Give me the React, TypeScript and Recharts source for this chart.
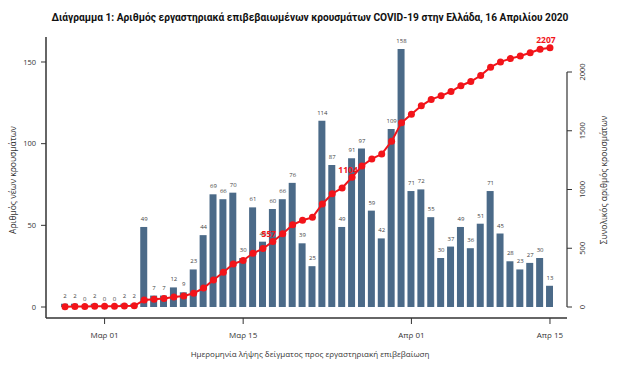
import React from 'react';
import { ComposedChart, Bar, Line, XAxis, YAxis, LabelList, ReferenceLine } from 'recharts';

const dates = [
  '26/02', '27/02', '28/02', '29/02',
  '01/03', '02/03', '03/03', '04/03', '05/03', '06/03', '07/03', '08/03', '09/03', '10/03',
  '11/03', '12/03', '13/03', '14/03', '15/03', '16/03', '17/03', '18/03', '19/03', '20/03',
  '21/03', '22/03', '23/03', '24/03', '25/03', '26/03', '27/03', '28/03', '29/03', '30/03', '31/03',
  '01/04', '02/04', '03/04', '04/04', '05/04', '06/04', '07/04', '08/04', '09/04', '10/04',
  '11/04', '12/04', '13/04', '14/04', '15/04',
];

const dailyCases = [
  2, 2, 0, 2, 0, 0, 2, 2, 49, 7, 7, 12, 9, 23, 44, 69, 66, 70, 30, 61,
  40, 60, 66, 76, 39, 25, 114, 87, 49, 91, 97, 59, 42, 109, 158, 71, 72, 55, 30, 37,
  49, 36, 51, 71, 45, 28, 23, 27, 30, 13,
];

const cumulativeCases = [
  2, 4, 4, 6, 6, 6, 8, 10, 59, 66, 73, 85, 94, 117, 161, 230, 296, 366, 396, 457,
  497, 557, 623, 699, 738, 763, 877, 964, 1013, 1104, 1201, 1260, 1302, 1411, 1569, 1640, 1712, 1767, 1797, 1834,
  1883, 1919, 1970, 2041, 2086, 2114, 2137, 2164, 2194, 2207,
];

const xTickIndex = [4, 18, 35, 49];
const xTickLabels = ['Μαρ 01', 'Μαρ 15', 'Απρ 01', 'Απρ 15'];
const leftTicks = [0, 50, 100, 150];
const rightTicks = [0, 500, 1000, 1500, 2000];
const highlightedIndex = [21, 29, 49];

const TITLE = 'Διάγραμμα 1: Αριθμός εργαστηριακά επιβεβαιωμένων κρουσμάτων COVID-19 στην Ελλάδα, 16 Απριλίου 2020';
const X_TITLE = 'Ημερομηνία λήψης δείγματος προς εργαστηριακή επιβεβαίωση';
const LEFT_TITLE = 'Αριθμός νέων κρουσμάτων';
const RIGHT_TITLE = 'Συνολικός αριθμός κρουσμάτων';

const data = dates.map((d, i) => ({ i, date: d, daily: dailyCases[i], cum: cumulativeCases[i] }));

const FONT = '"Open Sans", "DejaVu Sans", sans-serif';
const TITLE_FONT = 'Roboto, "Open Sans", sans-serif';
const X_MIN = -1.92;
const X_MAX = 50.72;
const BAR_COLOR = '#4b6a88';
const RED = '#f2141a';
const AXIS_COLOR = '#333333';

const RightTick = (props: any) => {
  const { x, y, payload } = props;
  return (
    <text
      x={x}
      y={y}
      transform={`rotate(-90 ${x} ${y})`}
      textAnchor="middle"
      dominantBaseline="central"
      fontSize={7.5}
      fill={AXIS_COLOR}
      fontFamily={FONT}
    >
      {payload.value}
    </text>
  );
};

const highlightedValues = highlightedIndex.map((i) => cumulativeCases[i]);

const HighlightLabel = (props: any) => {
  const { x, y, value, index } = props;
  const show = index !== undefined ? highlightedIndex.includes(index) : highlightedValues.includes(value);
  if (!show) return null;
  return (
    <text
      x={x - 4}
      y={y - 8}
      textAnchor="middle"
      dominantBaseline="central"
      fontSize={8.5}
      fontWeight={700}
      fill={RED}
      fontFamily={FONT}
    >
      {value}
    </text>
  );
};

const BarValueLabel = (props: any) => {
  const { x, y, value } = props;
  return (
    <text
      x={x}
      y={y - 6}
      textAnchor="middle"
      fontSize={6}
      fill="#444"
      fontFamily={FONT}
    >
      {value}
    </text>
  );
};

export default function App() {
  return (
    <div style={{ position: 'absolute', left: 0, top: 0, width: 617, height: 367, background: '#fff' }}>
      <ComposedChart width={617} height={367} data={data} margin={{ top: 37, right: 10, bottom: 9, left: 6 }}>
        <XAxis
          dataKey="i"
          type="number"
          domain={[X_MIN, X_MAX]}
          allowDataOverflow
          ticks={xTickIndex}
          tickFormatter={(v: number) => xTickLabels[xTickIndex.indexOf(v)] ?? ''}
          height={40}
          tickSize={6}
          tickMargin={8}
          axisLine={{ stroke: AXIS_COLOR, strokeWidth: 1.5 }}
          tickLine={{ stroke: AXIS_COLOR }}
          tick={{ fontSize: 8, fill: AXIS_COLOR, fontFamily: FONT }}
        />
        <YAxis
          yAxisId="left"
          domain={[-6.73, 165.3]}
          allowDataOverflow
          ticks={leftTicks}
          width={40}
          tickSize={5}
          tickMargin={5}
          axisLine={{ stroke: AXIS_COLOR, strokeWidth: 1.5 }}
          tickLine={{ stroke: AXIS_COLOR }}
          tick={{ fontSize: 7.5, fill: AXIS_COLOR, fontFamily: FONT }}
        />
        <YAxis
          yAxisId="right"
          orientation="right"
          domain={[-93.6, 2298]}
          allowDataOverflow
          ticks={rightTicks}
          width={40}
          tickSize={5}
          tickMargin={10}
          axisLine={false}
          tickLine={{ stroke: AXIS_COLOR }}
          tick={<RightTick />}
        />
        <ReferenceLine
          yAxisId="right"
          segment={[{ x: X_MAX, y: 0 }, { x: X_MAX, y: 2000 }]}
          stroke={AXIS_COLOR}
          strokeWidth={1.2}
          ifOverflow="visible"
        />
        <Bar yAxisId="left" dataKey="daily" fill={BAR_COLOR} barSize={7} isAnimationActive={false} />
        <Line
          yAxisId="left"
          dataKey="daily"
          stroke="none"
          dot={false}
          activeDot={false}
          legendType="none"
          isAnimationActive={false}
        >
          <LabelList dataKey="daily" content={BarValueLabel} />
        </Line>
        <Line
          yAxisId="right"
          dataKey="cum"
          stroke={RED}
          strokeWidth={2}
          dot={{ r: 3.5, fill: RED, stroke: RED, strokeWidth: 0 }}
          activeDot={false}
          isAnimationActive={false}
        >
          <LabelList dataKey="cum" content={HighlightLabel} />
        </Line>
      </ComposedChart>
      <svg
        width={617}
        height={367}
        style={{ position: 'absolute', left: 0, top: 0, pointerEvents: 'none' }}
      >
        <text x={310} y={17} textAnchor="middle" dominantBaseline="central" fontSize={10.2} fontWeight={700} fill="#111" fontFamily={TITLE_FONT}>
          {TITLE}
        </text>
        <text x={310} y={353} textAnchor="middle" dominantBaseline="central" fontSize={8} fill={AXIS_COLOR} fontFamily={FONT}>
          {X_TITLE}
        </text>
        <text x={12} y={180} transform="rotate(-90 12 180)" textAnchor="middle" dominantBaseline="central" fontSize={8.5} fill={AXIS_COLOR} fontFamily={FONT}>
          {LEFT_TITLE}
        </text>
        <text x={603} y={180} transform="rotate(-90 603 180)" textAnchor="middle" dominantBaseline="central" fontSize={8.5} fill={AXIS_COLOR} fontFamily={FONT}>
          {RIGHT_TITLE}
        </text>
      </svg>
    </div>
  );
}
